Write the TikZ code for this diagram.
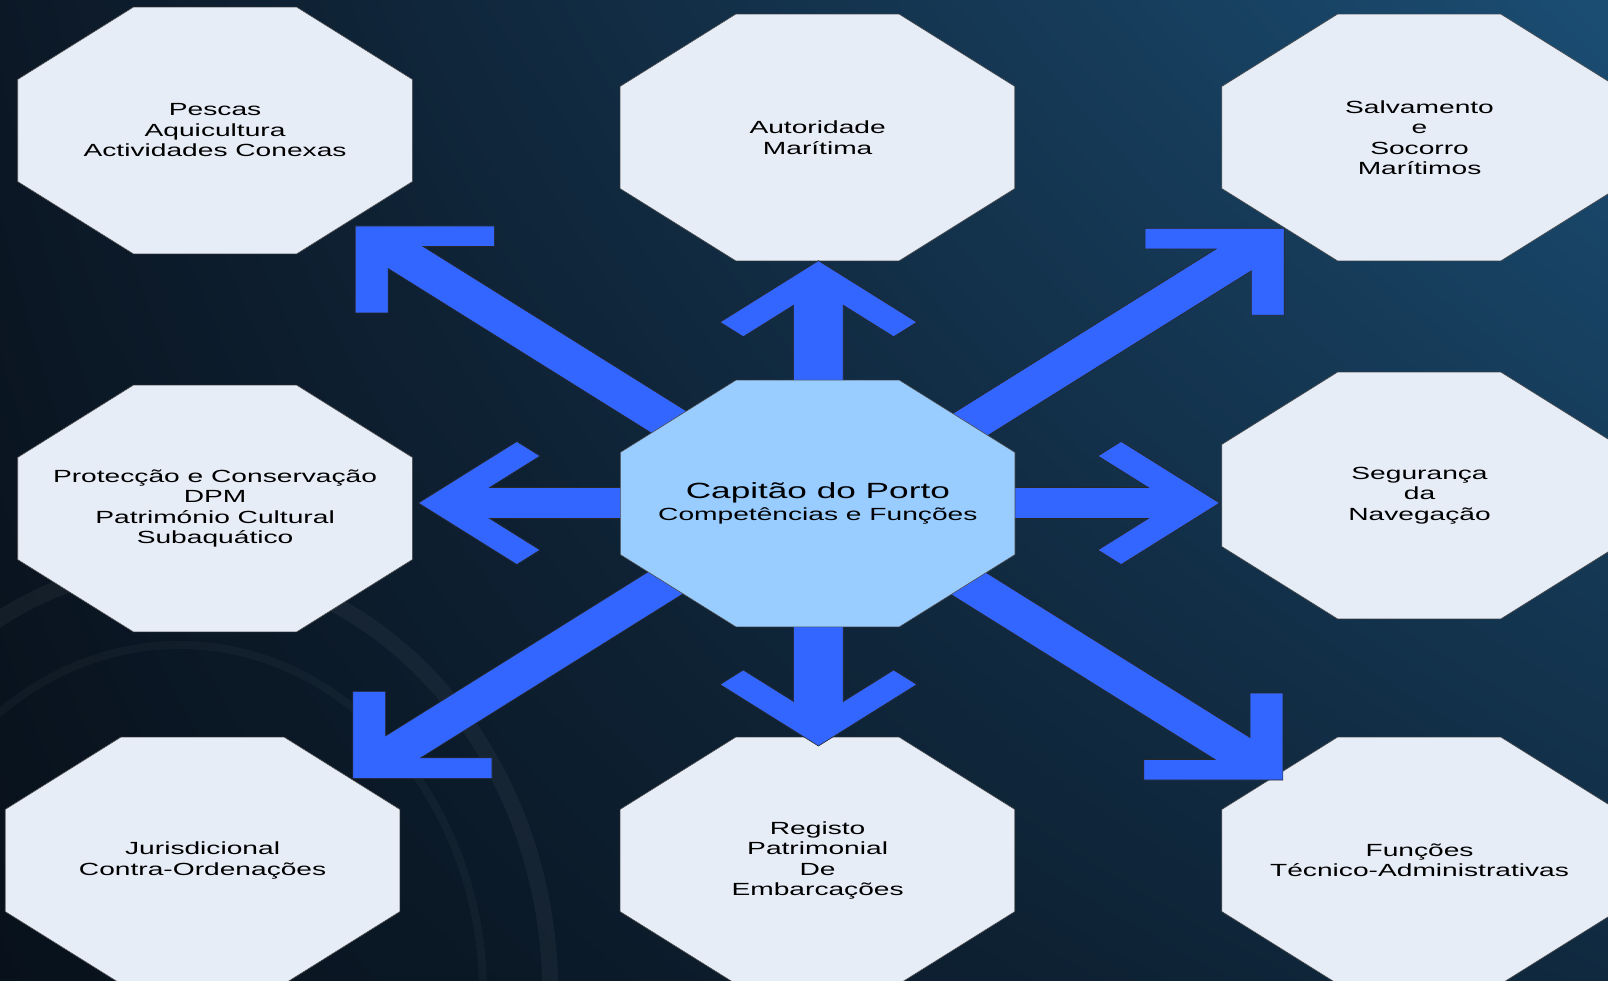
\documentclass[tikz,border=0pt]{standalone}
\usepackage{fontspec}
\setmainfont{Liberation Sans}
\usetikzlibrary{shapes.geometric,calc,shadings}

\definecolor{bgUL}{HTML}{0C1826}
\definecolor{bgUR}{HTML}{1B4D73}
\definecolor{bgLL}{HTML}{08111B}
\definecolor{bgLR}{HTML}{10293F}
\definecolor{topicfill}{HTML}{E7EDF7}
\definecolor{centrefill}{HTML}{99CCFF}
\definecolor{arrowblue}{HTML}{3366FF}

\begin{document}
\begin{tikzpicture}[
                x=1pt, y=-1pt, xscale=1.6,
                every node/.style={transform shape},
                octagon/.style={regular polygon, regular polygon sides=8,
                    minimum size=267pt, inner sep=0pt, draw=black!70, line width=0.6pt},
                topic/.style={octagon, fill=topicfill},
                centre/.style={octagon, fill=centrefill},
                words/.style={align=center, inner sep=0pt, font=\fontsize{17.6}{20.5}\selectfont},
                blockarrow/.style={fill=arrowblue, draw=black!85, line width=0.6pt, line join=miter},
                pics/bigarrow/.style={code={
                    \draw[blockarrow] (0,0) -- (-61.5,61.5) -- (-76,47) -- (-44.5,15.5)
                        -- (-#1,15.5) -- (-#1,-15.5) -- (-44.5,-15.5) -- (-76,-47)
                        -- (-61.5,-61.5) -- cycle;}}
                ]
                \useasboundingbox (0,0) rectangle (1005,981);
                \shade[upper left=bgUL, upper right=bgUR, lower left=bgLL, lower right=bgLR]
                    (0,0) rectangle (1005,981);
                \draw[white, opacity=0.045, line width=16pt] (112,995) ellipse [x radius=232, y radius=430];
                \draw[white, opacity=0.03, line width=8pt] (112,995) ellipse [x radius=190, y radius=350];

                \node[topic, label={[words]center:Pescas\\Aquicultura\\Actividades Conexas}] (pescas) at (134.4,130.5) {};
                \node[topic, label={[words]center:Autoridade\\Marítima}] (autoridade) at (510.9,137.5) {};
                \node[topic, label={[words]center:Salvamento\\e\\Socorro\\Marítimos}] (salvamento) at (887,137.5) {};
                \node[topic, label={[words]center:Protecção e Conservação\\DPM\\Património Cultural\\Subaquático}] (proteccao) at (134.4,508.5) {};
                \node[topic, label={[words]center:Segurança\\da\\Navegação}] (seguranca) at (887,495.5) {};
                \node[topic, label={[words]center:Jurisdicional\\Contra-Ordenações}] (jurisdicional) at (126.6,860.5) {};
                \node[topic, label={[words]center:Registo\\Patrimonial\\De\\Embarcações}] (registo) at (510.9,860.5) {};
                \node[topic, label={[words]center:Funções\\Técnico-Administrativas}] (funcoes) at (887,860.5) {};

                \coordinate (hub) at (510.9,503.5);
                \pic[rotate=90] at ($(hub)+(0.5,-242.8)$) {bigarrow=190};
                \pic[rotate=-90] at ($(hub)+(0.5,242.5)$) {bigarrow=190};
                \pic[rotate=180] at ($(hub)+(-249.5,-0.5)$) {bigarrow=190};
                \pic[rotate=0] at ($(hub)+(251.2,-0.5)$) {bigarrow=190};
                \pic[rotate=135] at ($(hub)+(-289,-277.5)$) {bigarrow=330};
                \pic[rotate=45] at ($(hub)+(291.6,-275.2)$) {bigarrow=330};
                \pic[rotate=225] at ($(hub)+(-290.5,274.8)$) {bigarrow=330};
                \pic[rotate=-45] at ($(hub)+(290.8,276.5)$) {bigarrow=330};

                \node[centre, label={[words]center:{\fontsize{22}{22}\selectfont Capitão do Porto}\\[1.2pt]Competências e Funções}] (capitao) at (hub) {};
\end{tikzpicture}
\end{document}
